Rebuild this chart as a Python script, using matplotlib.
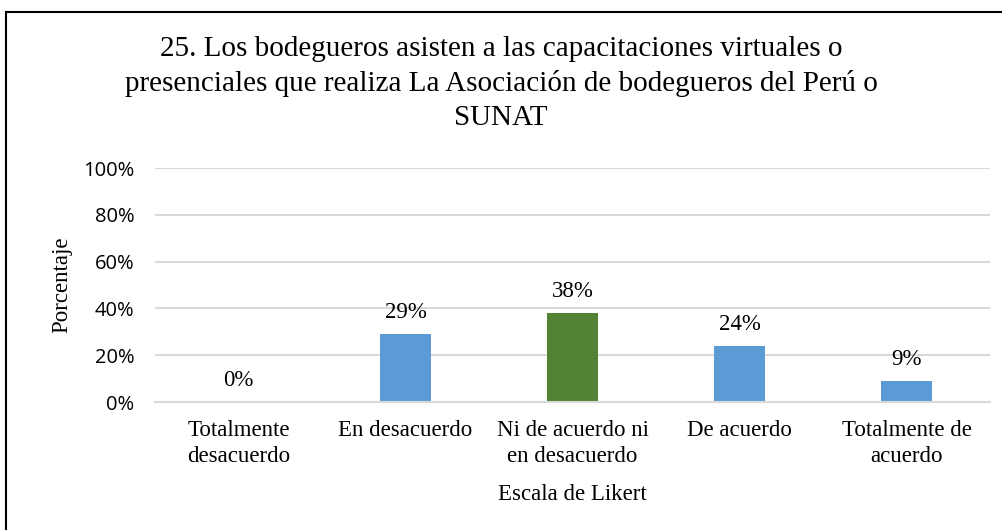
import matplotlib.pyplot as plt
from matplotlib.lines import Line2D
from matplotlib.ticker import FuncFormatter

categorias = ["Totalmente\ndesacuerdo", "En desacuerdo", "Ni de acuerdo ni\nen desacuerdo",
              "De acuerdo", "Totalmente de\nacuerdo"]
porcentajes = [0, 29, 38, 24, 9]
colores = ["#5b9bd5", "#5b9bd5", "#548235", "#5b9bd5", "#5b9bd5"]

titulo = ("25. Los bodegueros asisten a las capacitaciones virtuales o\n"
          "presenciales que realiza La Asociación de bodegueros del Perú o\n"
          "SUNAT")

serif = "Liberation Serif"
sans = "Open Sans"

fig = plt.figure(figsize=(10.02, 5.30), dpi=100)
ax = fig.add_axes([0.1547, 0.2415, 0.8333, 0.4415])

x = range(len(categorias))
bars = ax.bar(x, porcentajes, width=0.31, color=colores, zorder=2)

for b, v in zip(bars, porcentajes):
    ax.annotate(f"{v}%", (b.get_x() + b.get_width() / 2, v), xytext=(0, 8),
                textcoords="offset points", ha="center", va="bottom",
                fontsize=16.5, family=serif)

ax.set_xlim(-0.5, len(categorias) - 0.5)
ax.set_ylim(0, 100)
ax.set_yticks(range(0, 101, 20))
ax.yaxis.set_major_formatter(FuncFormatter(lambda v, p: f"{v:.0f}%"))
ax.grid(axis="y", color="#d9d9d9", linewidth=1.5, zorder=0)
ax.set_axisbelow(True)
for s in ["top", "right", "left"]:
    ax.spines[s].set_visible(False)
ax.spines["bottom"].set_color("#d9d9d9")
ax.spines["bottom"].set_linewidth(1.5)
ax.tick_params(length=0)
ax.tick_params(axis="y", labelsize=14.5, pad=15)
for t in ax.get_yticklabels():
    t.set_family(sans)

ax.set_xticks(list(x))
ax.set_xticklabels(categorias, fontsize=16.5, family=serif, linespacing=1.3)
ax.tick_params(axis="x", pad=13)
ax.set_xlabel("Escala de Likert", fontsize=16.5, family=serif, labelpad=12)
ax.set_ylabel("Porcentaje", fontsize=16.5, family=serif, labelpad=8)

fig.text(0.5, 0.843, titulo, ha="center", va="center", fontsize=21,
         family=serif, linespacing=1.38)

# marco del gráfico
fig.add_artist(Line2D([6 / 1002, 6 / 1002], [0, 1 - 12 / 530], color="black",
                      linewidth=1.5, transform=fig.transFigure))
fig.add_artist(Line2D([6 / 1002, 1], [1 - 12 / 530, 1 - 12 / 530], color="black",
                      linewidth=1.5, transform=fig.transFigure))

fig.savefig("out.png", dpi=100)
